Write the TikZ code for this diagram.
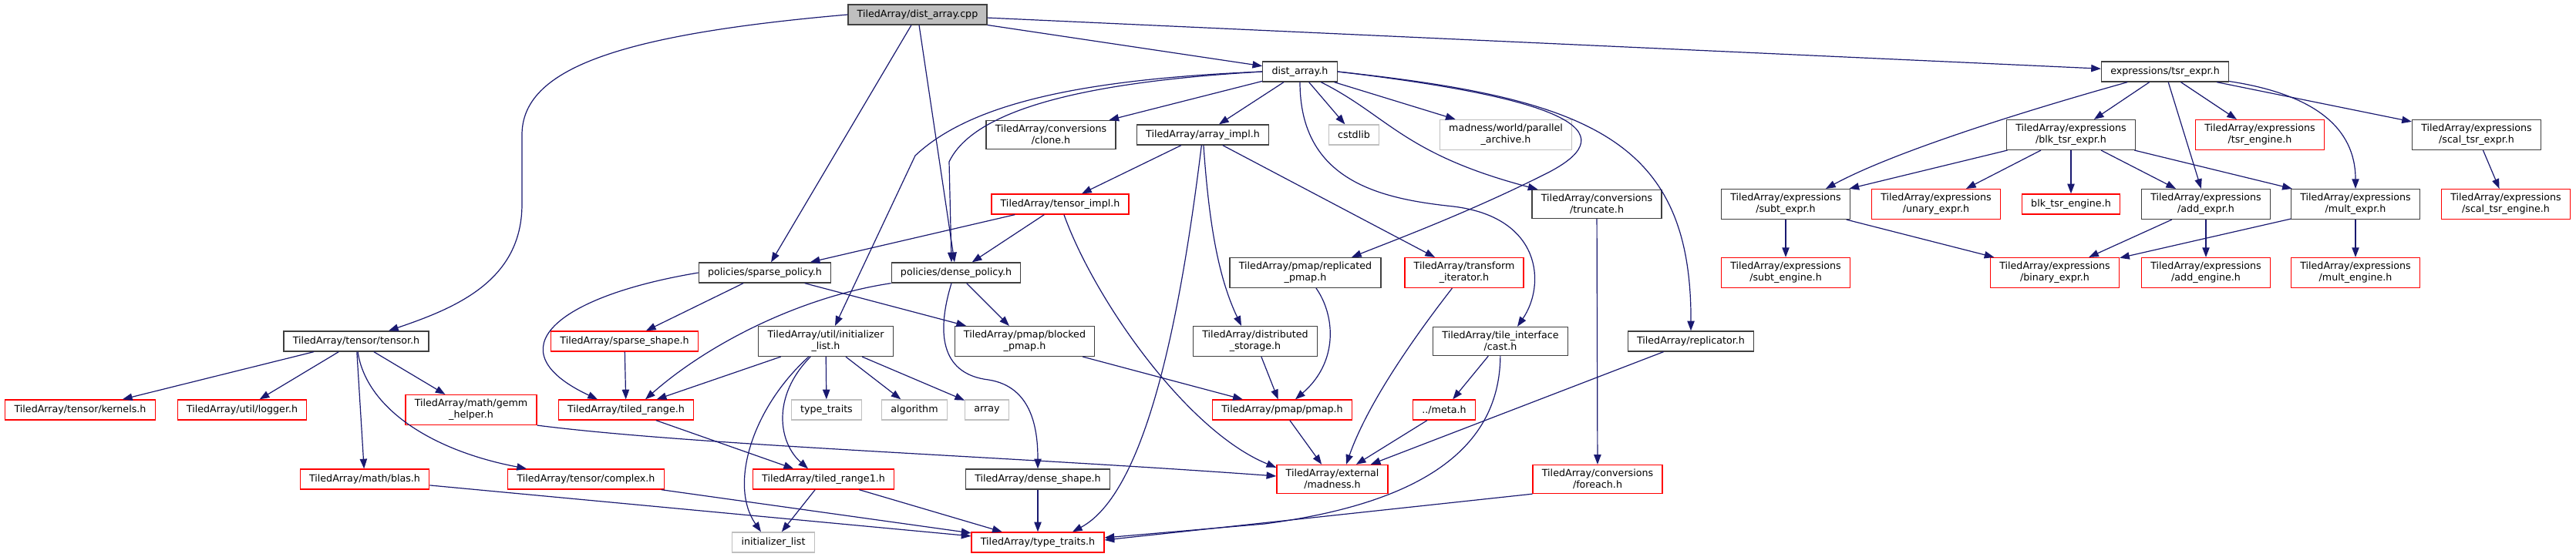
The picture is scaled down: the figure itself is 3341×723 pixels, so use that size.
\documentclass[tikz,border=0pt]{standalone}
\usepackage{fontspec}
\setmainfont{DejaVu Sans}
\usepackage{tikz}
\usetikzlibrary{arrows.meta, positioning, calc}
\definecolor{edgeblue}{HTML}{191970}
\definecolor{grey75}{HTML}{BFBFBF}
\definecolor{grey25}{HTML}{404040}

\begin{document}
\begin{tikzpicture}[
  x=0.75pt, y=-0.75pt,
  font=\fontsize{9.5pt}{11.25pt}\selectfont,
  box/.style={draw, line width=1pt, rectangle, align=center, fill=white,
              inner xsep=8.8pt, inner ysep=4.2pt, minimum height=19.5pt},
  hdr/.style={box, draw=grey25},
  trunc/.style={box, draw=red},
  sys/.style={box, draw=grey75},
  root/.style={box, draw=grey25, fill=grey75},
  ar/.style={-{Triangle[length=9.5pt, width=7pt]}, line width=0.9pt, color=edgeblue}
]
\useasboundingbox (0,0) rectangle (3341,723);

\node[root]  (cpp)        at (1190,19)  {TiledArray/dist\_array.cpp};
\node[hdr]   (dah)        at (1686,93)  {dist\_array.h};
\node[hdr]   (tsr)        at (2808,93)  {expressions/tsr\_expr.h};
\node[hdr]   (clone)      at (1363,175) {TiledArray/conversions\\/clone.h};
\node[hdr]   (arrimpl)    at (1560,175) {TiledArray/array\_impl.h};
\node[sys]   (cstdlib)    at (1756,175) {cstdlib};
\node[sys]   (parch)      at (1953,175) {madness/world/parallel\\\_archive.h};
\node[hdr]   (blktsr)     at (2686,175) {TiledArray/expressions\\/blk\_tsr\_expr.h};
\node[trunc] (tsreng)     at (2931,175) {TiledArray/expressions\\/tsr\_engine.h};
\node[hdr]   (scaltsr)    at (3212,175) {TiledArray/expressions\\/scal\_tsr\_expr.h};
\node[trunc] (tensorimpl) at (1375,265) {TiledArray/tensor\_impl.h};
\node[hdr]   (truncate)   at (2071,265) {TiledArray/conversions\\/truncate.h};
\node[hdr]   (subt)       at (2316,265) {TiledArray/expressions\\/subt\_expr.h};
\node[trunc] (unary)      at (2511,265) {TiledArray/expressions\\/unary\_expr.h};
\node[trunc] (blkeng)     at (2686,265) {blk\_tsr\_engine.h};
\node[hdr]   (addx)       at (2861,265) {TiledArray/expressions\\/add\_expr.h};
\node[hdr]   (multx)      at (3055,265) {TiledArray/expressions\\/mult\_expr.h};
\node[trunc] (scaleng)    at (3250,265) {TiledArray/expressions\\/scal\_tsr\_engine.h};
\node[hdr]   (sparsep)    at (992,354)  {policies/sparse\_policy.h};
\node[hdr]   (densep)     at (1240,354) {policies/dense\_policy.h};
\node[hdr]   (replpmap)   at (1693,354) {TiledArray/pmap/replicated\\\_pmap.h};
\node[trunc] (transit)    at (1899,354) {TiledArray/transform\\\_iterator.h};
\node[trunc] (subteng)    at (2316,354) {TiledArray/expressions\\/subt\_engine.h};
\node[trunc] (binary)     at (2665,354) {TiledArray/expressions\\/binary\_expr.h};
\node[trunc] (addeng)     at (2861,354) {TiledArray/expressions\\/add\_engine.h};
\node[trunc] (multeng)    at (3055,354) {TiledArray/expressions\\/mult\_engine.h};
\node[hdr]   (tensor)     at (462,443)  {TiledArray/tensor/tensor.h};
\node[trunc] (sparseshape) at (810,443) {TiledArray/sparse\_shape.h};
\node[hdr]   (initlist)   at (1071,443) {TiledArray/util/initializer\\\_list.h};
\node[hdr]   (blkpmap)    at (1329,443) {TiledArray/pmap/blocked\\\_pmap.h};
\node[hdr]   (diststor)   at (1628,443) {TiledArray/distributed\\\_storage.h};
\node[hdr]   (cast)       at (1946,443) {TiledArray/tile\_interface\\/cast.h};
\node[hdr]   (replic)     at (2193,443) {TiledArray/replicator.h};
\node[trunc] (kernels)    at (104,532)  {TiledArray/tensor/kernels.h};
\node[trunc] (logger)     at (314,532)  {TiledArray/util/logger.h};
\node[trunc] (gemm)       at (611,532)  {TiledArray/math/gemm\\\_helper.h};
\node[trunc] (tiledrange) at (812,532)  {TiledArray/tiled\_range.h};
\node[sys]   (typetr)     at (1072,532) {type\_traits};
\node[sys]   (algorithm)  at (1186,532) {algorithm};
\node[sys]   (array)      at (1280,532) {array};
\node[trunc] (pmap)       at (1663,532) {TiledArray/pmap/pmap.h};
\node[trunc] (meta)       at (1873,532) {../meta.h};
\node[trunc] (blas)       at (473,622)  {TiledArray/math/blas.h};
\node[trunc] (complex)    at (760,622)  {TiledArray/tensor/complex.h};
\node[trunc] (tr1)        at (1068,622) {TiledArray/tiled\_range1.h};
\node[hdr]   (denseshape) at (1346,622) {TiledArray/dense\_shape.h};
\node[trunc] (madness)    at (1728,622) {TiledArray/external\\/madness.h};
\node[trunc] (foreach)    at (2072,622) {TiledArray/conversions\\/foreach.h};
\node[sys]   (stdinit)    at (1003,704) {initializer\_list};
\node[trunc] (typetraits) at (1346,704) {TiledArray/type\_traits.h};

\draw[ar] (cpp.west) .. controls (800,45) and (677,90) .. (677,175) -- (677,265)
          .. controls (677,365) and (590,400) .. ($(tensor.north)+(42,0)$);
\draw[ar] (cpp) -- (sparsep);
\draw[ar] (cpp) -- (densep);
\draw[ar] (cpp) -- (dah);
\draw[ar] (cpp) -- (tsr);

\draw[ar] (dah.west) .. controls (1400,103) and (1258,135) .. (1187,202) -- ($(initlist.north)+(12,0)$);
\draw[ar] (dah.west) .. controls (1450,104) and (1268,132) .. (1231,210) -- ($(densep.north)+(-6,0)$);
\draw[ar] (dah) -- (clone);
\draw[ar] (dah) -- (arrimpl);
\draw[ar] (dah) -- (cstdlib);
\draw[ar] (dah) -- (parch);
\draw[ar] (dah) .. controls (1800,150) and (1820,200) .. ($(truncate.north west)+(8,0)$);
\draw[ar] (dah.east) .. controls (2050,130) and (2110,175) .. (2000,228)
          .. controls (1900,278) and (1800,315) .. ($(replpmap.north)+(60,0)$);
\draw[ar] (dah.south) .. controls (1686,235) and (1790,258) .. (1885,268)
          .. controls (2000,282) and (2005,370) .. ($(cast.north)+(22,0)$);
\draw[ar] (dah.east) .. controls (2060,128) and (2194,180) .. (replic.north);

\draw[ar] (arrimpl) -- (tensorimpl);
\draw[ar] (arrimpl) .. controls (1530,420) and (1485,640) .. ($(typetraits.north)+(45,0)$);
\draw[ar] (arrimpl) .. controls (1568,290) and (1580,360) .. ($(diststor.north)+(-18,0)$);
\draw[ar] (arrimpl) -- (transit);

\draw[ar] (tensorimpl) -- (sparsep);
\draw[ar] (tensorimpl) -- (densep);
\draw[ar] (tensorimpl) .. controls (1420,390) and (1540,560) .. ($(madness.north west)+(0,4)$);

\draw[ar] (sparsep.west) .. controls (720,385) and (640,455) .. ($(tiledrange.north)+(-37,0)$);
\draw[ar] (sparsep) -- (sparseshape);
\draw[ar] (sparsep) -- (blkpmap);

\draw[ar] (densep.south west) .. controls (1040,385) and (920,445) .. ($(tiledrange.north)+(25,0)$);
\draw[ar] (densep) -- (blkpmap);
\draw[ar] ($(densep.south)+(-6,0)$) .. controls (1212,440) and (1225,486) .. (1282,493)
          .. controls (1340,502) and (1346,560) .. (denseshape.north);

\draw[ar] (initlist) -- (tiledrange);
\draw[ar] (initlist) .. controls (975,530) and (945,630) .. ($(stdinit.north)+(-16,0)$);
\draw[ar] (initlist) .. controls (1000,515) and (1010,575) .. ($(tr1.north)+(-20,0)$);
\draw[ar] (initlist) -- (typetr);
\draw[ar] (initlist) -- (algorithm);
\draw[ar] (initlist) -- (array);

\draw[ar] (tensor) -- (kernels);
\draw[ar] (tensor) -- (logger);
\draw[ar] (tensor) -- (blas);
\draw[ar] (tensor) -- (gemm);
\draw[ar] (tensor) .. controls (475,530) and (560,585) .. ($(complex.north)+(-77,0)$);

\draw[ar] (sparseshape) -- (tiledrange);
\draw[ar] (tiledrange) -- (tr1);
\draw[ar] (tr1) -- (stdinit);
\draw[ar] (tr1) -- (typetraits);
\draw[ar] (gemm.south east) .. controls (900,578) and (1300,592) .. ($(madness.west)+(0,-4)$);
\draw[ar] (blas) -- (typetraits);
\draw[ar] (complex) -- (typetraits);
\draw[ar] (denseshape) -- (typetraits);
\draw[ar] (blkpmap) -- (pmap);
\draw[ar] (replpmap) .. controls (1732,410) and (1736,470) .. ($(pmap.north)+(17,0)$);
\draw[ar] (diststor) -- (pmap);
\draw[ar] (pmap) -- (madness);
\draw[ar] (transit) .. controls (1840,430) and (1775,520) .. ($(madness.north)+(18,0)$);
\draw[ar] (cast) -- (meta);
\draw[ar] (cast) .. controls (1945,590) and (1830,655) .. (1640,680) -- ($(typetraits.east)+(0,-6)$);
\draw[ar] (meta) -- (madness);
\draw[ar] (replic) -- (madness);
\draw[ar] (truncate) -- (foreach);
\draw[ar] (foreach.south west) -- ($(typetraits.east)+(0,-3)$);

\draw[ar] (tsr) .. controls (2640,140) and (2460,195) .. ($(subt.north)+(52,0)$);
\draw[ar] (tsr) -- (blktsr);
\draw[ar] (tsr) -- (addx);
\draw[ar] (tsr) -- (tsreng);
\draw[ar] (tsr) .. controls (3000,122) and (3055,165) .. (multx.north);
\draw[ar] (tsr) -- (scaltsr);
\draw[ar] (blktsr) -- (subt);
\draw[ar] (blktsr) -- (unary);
\draw[ar] (blktsr) -- (blkeng);
\draw[ar] (blktsr) -- (addx);
\draw[ar] (blktsr) -- (multx);
\draw[ar] (subt) -- (subteng);
\draw[ar] (subt) -- (binary);
\draw[ar] (addx) -- (binary);
\draw[ar] (addx) -- (addeng);
\draw[ar] (multx) -- (binary);
\draw[ar] (multx) -- (multeng);
\draw[ar] (scaltsr) -- (scaleng);
\end{tikzpicture}
\end{document}
